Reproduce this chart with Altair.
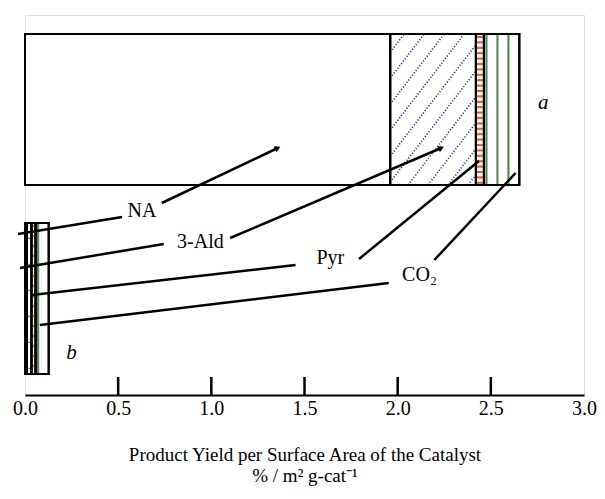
import math
import altair as alt
import pandas as pd

# ---------------- data ----------------
catalysts = ["a", "b"]
products = ["NA", "3-Ald", "Pyr", "CO₂"]
yield_a = [1.96, 0.46, 0.043, 0.19]
yield_b = [0.010, 0.025, 0.022, 0.070]
tick_values = [0.0, 0.5, 1.0, 1.5, 2.0, 2.5, 3.0]
inner_ticks = [0.5, 1.0, 1.5, 2.0, 2.5]
title_lines = ["Product Yield per Surface Area of the Catalyst", "% / m² g-cat⁻¹"]

# ---------------- layout (pixels inside plot area) ----------------
W, H = 559, 380
X_MAX = 3.0
PX = W / X_MAX
BAR_TOP = {"a": 19, "b": 208}
BAR_H = 151
TICK_LEN = 18
FONT = "Liberation Serif"
SX = W / 564.0  # horizontal layout factor for annotations

def xd(px):
    return px * SX / PX

def yd(py):
    return H - py

# segments
rows = []
for cat, vals in zip(catalysts, [yield_a, yield_b]):
    start = 0.0
    for prod, v in zip(products, vals):
        rows.append(dict(cat=cat, product=prod, x=start, x2=start + v,
                         y=yd(BAR_TOP[cat]), y2=yd(BAR_TOP[cat] + BAR_H)))
        start += v
seg = pd.DataFrame(rows)

# pattern fills (derived from segment extents), pixel space
def xp(px):
    return px / PX

hatch, dash, vlines = [], [], []
SLOPE = 1.3
for r in rows:
    x0, x1 = r["x"] * PX, r["x2"] * PX
    top, bot = BAR_TOP[r["cat"]], BAR_TOP[r["cat"]] + BAR_H
    h = bot - top
    if r["product"] == "3-Ald":
        run = h / SLOPE
        c = x0 - run - 6
        while c < x1:
            t0 = max(0.0, (x0 - c) / run)
            t1 = min(1.0, (x1 - c) / run)
            if t1 > t0:
                hatch.append(dict(x=xp(c + t0 * run), x2=xp(c + t1 * run),
                                  y=yd(bot - t0 * h), y2=yd(bot - t1 * h)))
            c += 20
    elif r["product"] == "Pyr":
        step = 5.4 if r["cat"] == "a" else 10
        yy = top + 3
        while yy < bot - 1:
            dash.append(dict(x=xp(x0 + 1), x2=xp(x1 - 1), y=yd(yy), y2=yd(yy)))
            yy += step
    elif r["product"] == "CO₂":
        xx = x0 + 2.5
        while xx < x1 - 4:
            vlines.append(dict(x=xp(xx), x2=xp(xx), y=yd(top + 1), y2=yd(bot - 1)))
            xx += 11
hatch = pd.DataFrame(hatch)
dash = pd.DataFrame(dash)
vlines = pd.DataFrame(vlines)
ticks = pd.DataFrame([dict(x=v, x2=v, y=0, y2=TICK_LEN) for v in inner_ticks])

# annotations (label positions and leader lines, plot pixels)
label_pos = {"NA": (118, 196), "3-Ald": (177, 227), "Pyr": (308, 243), "CO₂": (398, 260)}
right_leaders = {"NA": ((138, 188), (255, 133)), "3-Ald": ((207, 223), (420, 133)),
                 "Pyr": ((337, 244), (458, 146)), "CO₂": ((413, 245), (495, 158))}
left_leaders = {"NA": ((98, 202), (-7, 219)), "3-Ald": ((140, 229), (-5, 253)),
                "Pyr": ((273, 250), (7, 280)), "CO₂": ((367, 268), (15, 310))}
arrow_on = ["NA", "3-Ald"]
cat_label_pos = {"a": (523, 88), "b": (47, 338)}

labels = pd.DataFrame([dict(t=p, x=xd(label_pos[p][0]), y=yd(label_pos[p][1])) for p in products])
lead = []
for p in products:
    for (a, b) in (right_leaders[p], left_leaders[p]):
        lead.append(dict(x=xd(a[0]), x2=xd(b[0]), y=yd(a[1]), y2=yd(b[1])))
lead = pd.DataFrame(lead)
arrows = []
for p in arrow_on:
    (ax, ay), (bx, by) = right_leaders[p]
    ang = math.degrees(math.atan2(by - ay, (bx - ax) * SX)) % 360
    arrows.append(dict(x=xd(bx), y=yd(by), ang=ang))
arrows = pd.DataFrame(arrows)
cat_labels = pd.DataFrame([dict(t=c, x=xd(cat_label_pos[c][0]), y=yd(cat_label_pos[c][1])) for c in catalysts])

xs = alt.Scale(domain=[0, X_MAX], nice=False, zero=False)
ys = alt.Scale(domain=[0, H], nice=False, zero=False)

main_axis = alt.Axis(values=tick_values, format=".1f", ticks=False, grid=False,
                     domain=True, domainColor="black", domainWidth=2,
                     labelFont=FONT, labelFontSize=20, labelColor="black",
                     labelPadding=3, labelFlush=False, labelOverlap=False,
                     title=title_lines, titleFont=FONT, titleFontSize=19,
                     titleFontWeight="normal", titleColor="black",
                     titlePadding=27, titleLineHeight=21)

bars = alt.Chart(seg).mark_rect(fill="white", stroke="black", strokeWidth=2).encode(
    x=alt.X("x:Q", scale=xs, axis=main_axis),
    x2="x2:Q",
    y=alt.Y("y:Q", scale=ys, axis=None),
    y2="y2:Q",
)

def rules(df, color, width, dash_pat=None):
    kw = dict(color=color, strokeWidth=width)
    if dash_pat:
        kw["strokeDash"] = dash_pat
    return alt.Chart(df).mark_rule(**kw).encode(
        x=alt.X("x:Q", scale=xs), x2="x2:Q",
        y=alt.Y("y:Q", scale=ys), y2="y2:Q")

hatch_l = rules(hatch, "#2b3a92", 1.6, [1.2, 1.8])
dash_l = rules(dash, "#e2622f", 2.2)
vline_l = rules(vlines, "#5a8a5a", 2.2)
tick_l = rules(ticks, "black", 2.5)

frames = alt.Chart(seg).mark_rect(fill="white", fillOpacity=0, stroke="black", strokeWidth=2).encode(
    x=alt.X("x:Q", scale=xs), x2="x2:Q",
    y=alt.Y("y:Q", scale=ys), y2="y2:Q")

lead_l = rules(lead, "black", 2.5)
arrow_l = alt.Chart(arrows).mark_point(shape="triangle-right", filled=True, color="black",
                                        size=45, opacity=1).encode(
    x=alt.X("x:Q", scale=xs), y=alt.Y("y:Q", scale=ys), angle=alt.Angle("ang:Q", scale=None))

text_l = alt.Chart(labels).mark_text(font=FONT, fontSize=20, color="black",
                                     align="center", baseline="middle").encode(
    x=alt.X("x:Q", scale=xs), y=alt.Y("y:Q", scale=ys), text="t:N")
cat_text = alt.Chart(cat_labels).mark_text(font=FONT, fontSize=21, fontStyle="italic",
                                           color="black", align="center", baseline="middle").encode(
    x=alt.X("x:Q", scale=xs), y=alt.Y("y:Q", scale=ys), text="t:N")

chart = alt.layer(bars, hatch_l, dash_l, vline_l, frames, tick_l, lead_l, arrow_l, text_l, cat_text).properties(
    width=W, height=H,
    autosize=alt.AutoSizeParams(type="none"),
    padding={"left": 17, "top": 7, "right": 13, "bottom": 91}
).configure_view(stroke="black", strokeWidth=2).configure(background="white")

chart.save("out.html", embed_options={"renderer": "svg", "actions": False})
